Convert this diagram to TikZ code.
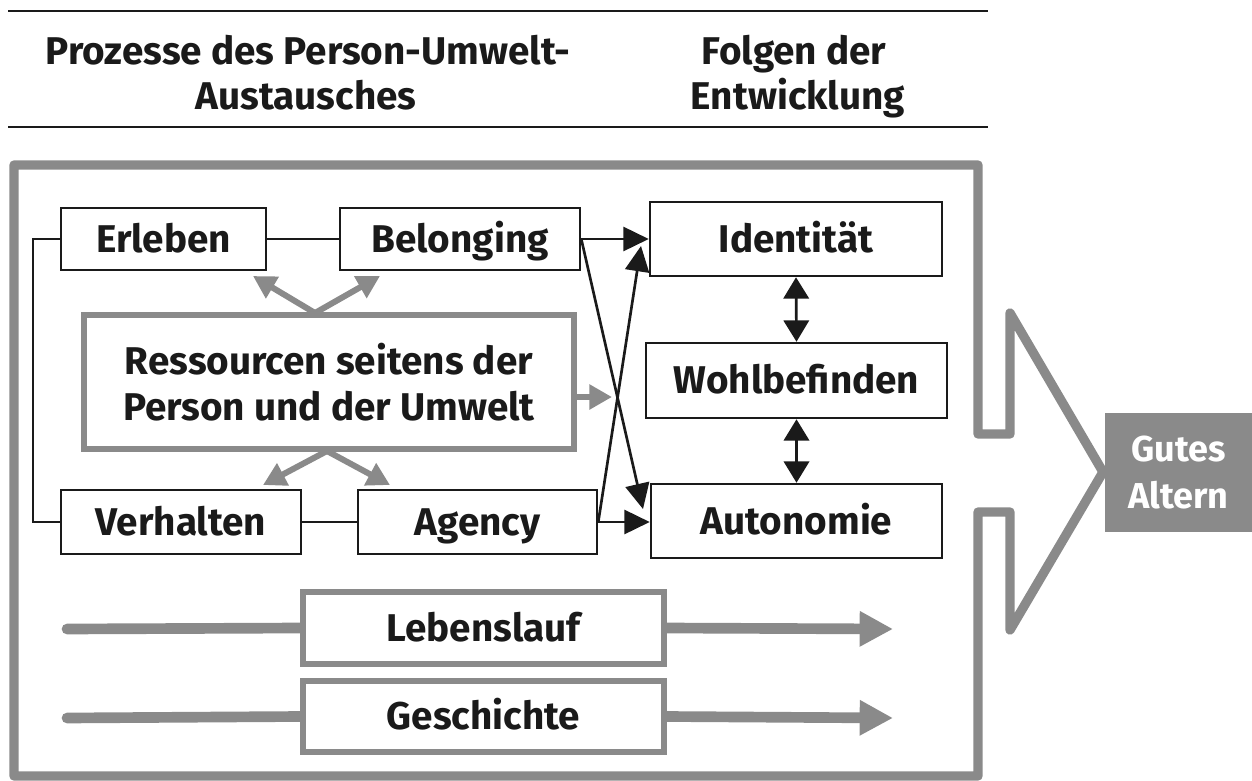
\documentclass[tikz,border=0pt]{standalone}
\usepackage{fontspec}
\setmainfont{Fira Sans}
\usetikzlibrary{arrows.meta,calc}
\definecolor{fg}{HTML}{1A1A1A}
\definecolor{gr}{HTML}{8A8A8A}
\begin{document}
\begin{tikzpicture}[x=0.75pt,y=-0.75pt,
  font=\fontsize{29}{34}\selectfont\bfseries,
  sz/.style 2 args={minimum width=#1*0.75pt,minimum height=#2*0.75pt},
  bbox/.style={draw=fg,line width=1.9pt,inner sep=0pt,text=fg,text height=26pt,text depth=6pt},
  gbox/.style={draw=gr,line width=4.5pt,inner sep=0pt,text=fg,fill=white,align=center},
  link/.style={draw=fg,line width=1.6pt},
  barr/.style={draw=fg,line width=2pt,-{Triangle[length=19pt,width=18pt]}},
  dbl/.style={draw=fg,line width=2pt,{Triangle[length=16pt,width=19pt]}-{Triangle[length=16pt,width=19pt]}},
  garr/.style={draw=gr,line width=4.5pt,-{Triangle[length=17pt,width=18pt]}},
  life/.style={draw=gr,line width=8pt,line cap=round},
  lifearr/.style={draw=gr,line width=8pt,-{Triangle[length=25pt,width=25pt]}},
  rulel/.style={draw=fg,line width=2.2pt},
  frame/.style={draw=gr,line width=7pt,line join=round},
  head/.style={text=fg,inner sep=0pt,anchor=base},
]
\useasboundingbox (0,0) rectangle (1252,781);

% header
\draw[rulel] (8,11) -- (988,11);
\draw[rulel] (8,127) -- (988,127);
\node[head] (h1) at (308,65) {Prozesse des Person-Umwelt-};
\node[head] (h2) at (306,110) {Austausches};
\node[head] (h3) at (794,65) {Folgen der};
\node[head] (h4) at (798,110) {Entwicklung};

% big frame with arrow
\draw[frame] (14,165) -- (978,165) -- (978,434) -- (1010,434) -- (1010,313)
  -- (1103,472) -- (1010,630) -- (1010,512) -- (978,512) -- (978,776)
  -- (14,776) -- cycle;

\node[fill=gr,text=white,inner sep=0pt,sz={147}{119},align=center,
  font=\fontsize{27}{35}\selectfont\bfseries] (gut) at (1178.5,472.5) {Gutes\\Altern};

% process boxes
\node[bbox,sz={205}{62}] (erl) at (163.5,239) {Erleben};
\node[bbox,sz={240}{62}] (bel) at (460,239) {Belonging};
\node[bbox,sz={240}{64}] (ver) at (181,522) {Verhalten};
\node[bbox,sz={239}{64}] (age) at (477.5,522) {Agency};
\node[gbox,sz={490}{134}] (res) at (329,382) {Ressourcen seitens der\\Person und der Umwelt};

% outcome boxes
\node[bbox,sz={292}{74}] (ide) at (796,239) {Identität};
\node[bbox,sz={301}{75}] (woh) at (796.5,380.5) {Wohlbefinden};
\node[bbox,sz={291}{74}] (aut) at (796.5,521) {Autonomie};

% life course boxes
\node[gbox,sz={361}{72},text height=26pt,text depth=6pt] (leb) at (483.5,628) {Lebenslauf};
\node[gbox,sz={361}{71},text height=26pt,text depth=6pt] (ges) at (483.5,716.5) {Geschichte};

% thin links
\draw[link] (erl) -- (bel);
\draw[link] (ver) -- (age);
\coordinate (bt) at (33,239);
\coordinate (bb) at (33,522);
\draw[link] (erl.west) -- (bt) -- (bb) -- (ver.west);

% black arrows
\coordinate (tipA) at (643,509);
\coordinate (tipI) at (641,246);
\draw[barr] (bel.east) -- (bel.east -| ide.west);
\draw[barr] (age.east) -- (age.east -| aut.west);
\draw[barr] (bel.east) -- (tipA);
\draw[barr] (age.east) -- (tipI);
\draw[dbl] (ide.south) -- (woh.north);
\draw[dbl] (woh.south) -- (aut.north);

% grey arrows from resources
\coordinate (rt) at (315,313);
\coordinate (rb) at (327,451);
\coordinate (t1) at (253,276);
\coordinate (t2) at (380,276);
\coordinate (t3) at (263,485);
\coordinate (t4) at (390,485);
\coordinate (t5) at (612,397);
\draw[garr] (rt) -- (t1);
\draw[garr] (rt) -- (t2);
\draw[garr] (rb) -- (t3);
\draw[garr] (rb) -- (t4);
\draw[garr] ([yshift=-11.25pt]res.east) -- (t5);

% life lines
\coordinate (l1) at (67,629);
\coordinate (l2) at (893,629);
\coordinate (g1) at (67,718);
\coordinate (g2) at (893,718);
\draw[life] (l1) -- (leb.west);
\draw[lifearr] (leb.east) -- (l2);
\draw[life] (g1) -- (ges.west);
\draw[lifearr] (ges.east) -- (g2);
\end{tikzpicture}
\end{document}
